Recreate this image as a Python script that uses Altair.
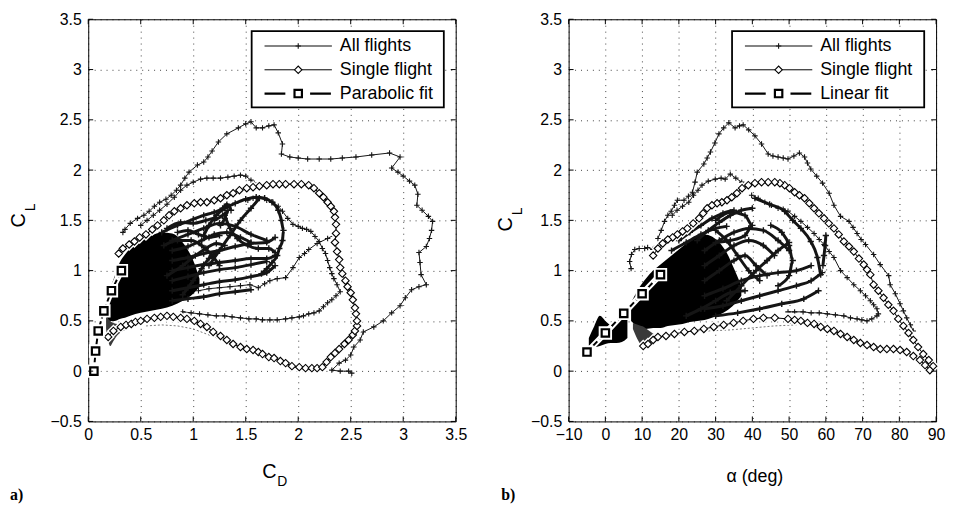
import altair as alt
import pandas as pd

FONT = "Liberation Sans"
W, H = 371, 406

CD_TICKS = [0, 0.5, 1, 1.5, 2, 2.5, 3, 3.5]
CL_TICKS = [-0.5, 0, 0.5, 1, 1.5, 2, 2.5, 3, 3.5]
ALPHA_TICKS = [-10, 0, 10, 20, 30, 40, 50, 60, 70, 80, 90]

LEGEND_A = ["All flights", "Single flight", "Parabolic fit"]
LEGEND_B = ["All flights", "Single flight", "Linear fit"]

# ---------------- panel a: C_L vs C_D ----------------
A_OUTER = [(0.33,1.38),(0.35,1.41),(0.40,1.47),(0.47,1.52),(0.53,1.55),(0.58,1.59),(0.63,1.64),(0.68,1.68),
           (0.74,1.71),(0.79,1.75),(0.84,1.80),(0.88,1.85),(0.92,1.92),(0.96,1.98),(1.04,2.05),(1.10,2.08),
           (1.14,2.13),(1.18,2.19),(1.24,2.28),(1.32,2.36),(1.43,2.42),(1.50,2.46),(1.55,2.48),(1.60,2.42),
           (1.66,2.42),(1.72,2.44),(1.77,2.45),(1.81,2.37),(1.85,2.26),(1.84,2.16),(1.92,2.13),(2.00,2.12),
           (2.09,2.11),(2.20,2.11),(2.31,2.11),(2.42,2.12),(2.55,2.13),(2.70,2.15),(2.87,2.17),(2.97,2.13),
           (2.89,2.02),(2.95,1.98),(3.00,1.94),(3.06,1.89),(3.11,1.85),(3.14,1.76),(3.13,1.65),(3.18,1.60),
           (3.24,1.54),(3.28,1.49),(3.27,1.40),(3.25,1.32),(3.22,1.24),(3.15,1.18),(3.16,1.08),(3.17,0.96),
           (3.22,0.86),(3.15,0.84),(3.08,0.81),(3.02,0.73),(2.97,0.65),(2.89,0.58),(2.81,0.50),(2.72,0.44),
           (2.62,0.39),(2.59,0.31),(2.53,0.24),(2.50,0.16),(2.45,0.11),(2.39,0.08),(2.32,0.01),(2.40,0.00),
           (2.48,0.00),(2.51,-0.02)]
A_SECOND = [(0.50,1.45),(0.56,1.50),(0.62,1.55),(0.68,1.60),(0.75,1.66),(0.82,1.73),(0.88,1.80),(0.94,1.85),
            (1.00,1.88),(1.07,1.91),(1.13,1.92),(1.19,1.92),(1.26,1.92),(1.33,1.93),(1.39,1.94),(1.45,1.95),
            (1.50,1.94),(1.55,1.90),(1.58,1.87)]
A_THIRD = [(1.52,1.70),(1.57,1.72),(1.63,1.72),(1.70,1.70),(1.76,1.68),(1.81,1.64),(1.85,1.59),(1.90,1.52),
           (1.95,1.46),(2.00,1.44),(2.04,1.42),(2.08,1.41),(2.12,1.39),(2.16,1.34),(2.20,1.29),(2.23,1.22),
           (2.26,1.17),(2.28,1.10),(2.30,1.03),(2.32,0.97),(2.34,0.92),(2.37,0.86),(2.40,0.79),(2.36,0.75),
           (2.32,0.71),(2.28,0.68),(2.24,0.64),(2.20,0.60),(2.15,0.58),(2.10,0.57),(2.05,0.55),(2.01,0.54),
           (1.94,0.53),(1.88,0.52),(1.80,0.51),(1.73,0.51),(1.66,0.51),(1.60,0.52),(1.53,0.52),(1.45,0.53),
           (1.37,0.54),(1.30,0.55),(1.22,0.55),(1.14,0.56),(1.06,0.57),(0.98,0.58),(0.90,0.59)]
A_FOURTH = [(1.05,0.80),(1.15,0.82),(1.25,0.83),(1.35,0.84),(1.45,0.85),(1.54,0.86),(1.62,0.83),(1.68,0.87),
            (1.73,0.90),(1.80,0.92),(1.88,0.93),(1.95,1.03),(2.01,1.13),(2.06,1.17),(2.10,1.21),(2.18,1.27),
            (2.28,1.32),(2.37,1.37)]
A_STRANDS = {
    "ring": [(1.10,1.35),(1.15,1.45),(1.22,1.55),(1.30,1.62),(1.40,1.67),(1.50,1.71),(1.60,1.73),(1.68,1.72),
             (1.75,1.68),(1.81,1.60),(1.84,1.50),(1.86,1.40),(1.85,1.30),(1.82,1.22),(1.80,1.15),(1.75,1.08),
             (1.70,1.02),(1.65,0.97)],
    "s1": [(0.70,1.38),(0.85,1.45),(1.00,1.51),(1.10,1.55),(1.20,1.58),(1.28,1.62),(1.32,1.66),(1.36,1.60)],
    "s2": [(0.80,1.30),(0.95,1.36),(1.10,1.42),(1.25,1.47),(1.40,1.44),(1.55,1.36),(1.70,1.30)],
    "s3": [(0.80,1.20),(0.95,1.24),(1.08,1.30),(1.20,1.36),(1.32,1.38),(1.45,1.33),(1.55,1.28)],
    "s4": [(0.80,1.10),(0.95,1.13),(1.10,1.17),(1.25,1.20),(1.40,1.24),(1.55,1.27),(1.70,1.28),(1.78,1.33)],
    "s5": [(0.80,1.00),(0.95,1.03),(1.10,1.06),(1.25,1.08),(1.40,1.10),(1.55,1.12),(1.70,1.12),(1.78,1.15)],
    "s6": [(0.80,0.90),(0.95,0.94),(1.10,0.98),(1.25,1.01),(1.40,1.03),(1.55,1.06),(1.70,1.09)],
    "s7": [(0.80,0.80),(0.95,0.83),(1.10,0.86),(1.25,0.89),(1.40,0.91),(1.55,0.94),(1.70,0.98),(1.78,1.05)],
    "s8": [(0.80,0.70),(0.95,0.72),(1.10,0.74),(1.25,0.77),(1.40,0.79),(1.55,0.81)],
    "s9": [(1.15,1.05),(1.25,1.20),(1.35,1.35),(1.45,1.50),(1.55,1.62),(1.63,1.72)],
    "s10": [(1.30,1.55),(1.35,1.42),(1.42,1.32),(1.52,1.25),(1.62,1.22),(1.72,1.22),(1.78,1.18)],
    "s11": [(0.75,0.95),(0.90,1.05),(1.02,1.15),(1.12,1.22),(1.22,1.27),(1.30,1.25)],
    "s12": [(0.72,1.25),(0.85,1.30),(0.98,1.30),(1.08,1.25),(1.18,1.15),(1.25,1.05)],
    "s13": [(0.90,0.76),(1.00,0.90),(1.08,1.02),(1.15,1.12),(1.22,1.18)],
    "s14": [(1.20,1.50),(1.28,1.55),(1.33,1.60),(1.30,1.52),(1.26,1.45)],
    "s15": [(0.75,1.42),(0.88,1.48),(1.00,1.47),(1.12,1.50),(1.22,1.53)],
    "s16": [(0.85,1.38),(0.95,1.40),(1.05,1.36),(1.15,1.33),(1.25,1.35)],
}
A_FAINT = [(0.55,0.45),(0.70,0.46),(0.85,0.45),(1.00,0.42),(1.15,0.36),(1.30,0.30)]
A_CORE_X = [0.17, 0.20, 0.25, 0.30, 0.35, 0.40, 0.50, 0.60, 0.70, 0.80, 0.90, 1.00, 1.06]
A_CORE_LO = [0.55, 0.50, 0.50, 0.52, 0.53, 0.55, 0.58, 0.60, 0.62, 0.65, 0.70, 0.77, 0.84]
A_CORE_HI = [0.62, 0.78, 0.94, 1.08, 1.16, 1.22, 1.30, 1.35, 1.38, 1.37, 1.28, 1.10, 0.92]
A_BLOB_X = [0.17, 0.19, 0.21, 0.24, 0.28, 0.33, 0.38]
A_BLOB_LO = [0.42, 0.30, 0.25, 0.30, 0.36, 0.40, 0.42]
A_BLOB_HI = [0.54, 0.52, 0.50, 0.48, 0.47, 0.46, 0.45]
A_SINGLE = [(0.19,0.34),(0.24,0.40),(0.31,0.44),(0.36,0.46),(0.41,0.47),(0.45,0.49),(0.50,0.50),(0.56,0.52),
            (0.63,0.53),(0.69,0.54),(0.75,0.55),(0.81,0.54),(0.88,0.53),(0.94,0.52),(1.01,0.50),(1.07,0.47),
            (1.13,0.44),(1.19,0.39),(1.26,0.35),(1.32,0.31),(1.38,0.27),(1.45,0.24),(1.51,0.22),(1.57,0.21),
            (1.62,0.19),(1.66,0.17),(1.72,0.14),(1.77,0.13),(1.83,0.10),(1.88,0.08),(1.94,0.05),(2.01,0.04),
            (2.07,0.03),(2.13,0.03),(2.18,0.03),(2.23,0.04),(2.27,0.09),(2.31,0.14),(2.35,0.18),(2.39,0.22),
            (2.44,0.27),(2.48,0.31),(2.52,0.36),(2.54,0.40),(2.56,0.45),(2.56,0.50),(2.55,0.57),(2.54,0.63),
            (2.52,0.71),(2.50,0.78),(2.47,0.84),(2.45,0.90),(2.42,0.97),(2.40,1.03),(2.39,1.11),(2.37,1.19),
            (2.35,1.28),(2.36,1.37),(2.36,1.46),(2.35,1.53),(2.34,1.59),(2.31,1.64),(2.28,1.68),(2.24,1.73),
            (2.20,1.77),(2.15,1.82),(2.10,1.85),(2.03,1.86),(1.96,1.86),(1.88,1.86),(1.82,1.86),(1.76,1.86),
            (1.70,1.85),(1.63,1.84),(1.57,1.83),(1.51,1.82),(1.44,1.80),(1.38,1.77),(1.32,1.75),(1.26,1.72),
            (1.20,1.70),(1.13,1.68),(1.07,1.68),(1.01,1.67),(0.94,1.65),(0.88,1.62),(0.82,1.59),(0.77,1.55),
            (0.72,1.50),(0.66,1.45),(0.61,1.41),(0.55,1.36),(0.49,1.33),(0.44,1.29),(0.39,1.26),(0.33,1.22),
            (0.29,1.17)]
A_FIT_X = [0.054, 0.070, 0.095, 0.149, 0.221, 0.316]
A_FIT_Y = [0.0, 0.2, 0.4, 0.6, 0.8, 1.0]

# ---------------- panel b: C_L vs alpha ----------------
B_OUTER = [(14.3,1.32),(15.2,1.40),(16.1,1.49),(17.0,1.55),(17.9,1.59),(18.8,1.65),(19.6,1.70),(21.4,1.70),
           (22.6,1.74),(23.7,1.78),(24.4,1.88),(25.0,1.98),(26.8,2.06),(27.7,2.12),(28.6,2.18),(29.8,2.27),
           (30.9,2.36),(32.2,2.42),(33.6,2.47),(35.3,2.42),(36.5,2.44),(37.5,2.45),(39.0,2.40),(40.7,2.34),
           (42.5,2.26),(44.3,2.16),(45.6,2.14),(47.0,2.13),(48.4,2.12),(49.7,2.11),(51.3,2.14),(52.8,2.17),
           (54.2,2.13),(55.0,2.07),(55.9,2.01),(57.5,1.94),(59.1,1.87),(60.9,1.77),(62.2,1.65),(64.0,1.54),
           (66.3,1.49),(67.4,1.43),(68.5,1.37),(69.6,1.31),(70.8,1.26),(73.0,1.16),(74.8,1.06),(77.1,0.95),
           (77.5,0.86),(78.9,0.77),(80.2,0.67),(81.1,0.60),(82.0,0.53),(83.0,0.46),(83.8,0.40)]
B_SECOND = [(18.2,1.55),(19.5,1.60),(21.0,1.64),(22.7,1.68),(24.0,1.75),(25.2,1.80),(26.3,1.85),(28.0,1.89),
            (29.9,1.91),(31.5,1.92),(32.6,1.91),(34.0,1.96),(35.5,1.92),(37.1,1.88),(38.5,1.84)]
B_THIRD = [(39.8,1.75),(41.6,1.72),(43.4,1.68),(45.2,1.65),(47.0,1.62),(48.4,1.61),(49.7,1.59),(51.5,1.54),
           (53.2,1.49),(55.0,1.43),(56.8,1.37),(58.2,1.31),(59.5,1.26),(60.9,1.19),(62.2,1.13),(64.0,1.00),
           (65.8,0.93),(67.6,0.86),(69.4,0.80),(70.8,0.75),(72.1,0.70),(73.0,0.66),(73.9,0.62),(74.3,0.57),
           (73.9,0.55),(72.5,0.52),(71.2,0.50),(69.8,0.51),(68.5,0.52),(66.7,0.53),(64.9,0.55),(62.6,0.56),
           (60.4,0.57),(58.2,0.58),(56.0,0.58),(53.8,0.59),(51.5,0.59),(49.7,0.59)]
B_LOOP = [(13.3,1.22),(12.9,1.21),(11.5,1.23),(10.7,1.22),(9.2,1.22),(8.0,1.21),(7.1,1.16),(6.6,1.09),(7.0,1.02)]
B_STRANDS = {
    "r1": [(25,1.30),(28,1.40),(31,1.48),(34,1.55),(37,1.60),(40,1.62)],
    "r2": [(27,1.20),(31,1.30),(35,1.38),(39,1.42),(43,1.40),(47,1.30),(50,1.20)],
    "r3": [(27,1.05),(31,1.15),(35,1.25),(39,1.30),(43,1.25),(46,1.15)],
    "r4": [(27,0.90),(31,1.00),(35,1.10),(38,1.15),(41,1.05),(44,0.95)],
    "r5": [(27,0.75),(32,0.82),(37,0.90),(42,0.95),(47,0.98),(52,1.00),(56,1.05)],
    "r6": [(27,0.62),(32,0.65),(37,0.70),(42,0.75),(47,0.80),(52,0.85),(56,0.90),(59,0.98)],
    "r7": [(30,0.55),(36,0.58),(42,0.62),(48,0.67),(54,0.72),(58,0.80)],
    "r8": [(60,1.35),(59.8,1.25),(59.5,1.15),(59.2,1.05)],
    "r9": [(30,1.40),(33,1.30),(36,1.15),(39,1.00),(42,0.90)],
    "r10": [(40.7,1.72),(44.7,1.66),(48.8,1.59),(51.0,1.50),(53.2,1.42),(55.9,1.29),(57.7,1.13),(58.6,0.96)],
    "r11": [(30,1.50),(34,1.58),(38,1.55),(40,1.45),(38,1.35),(34,1.30),(30,1.28)],
    "r12": [(33,0.70),(37,0.85),(41,1.00),(44,1.10),(47,1.20),(50,1.28)],
    "r13": [(22,0.55),(26,0.62),(30,0.70),(34,0.78),(38,0.80)],
    "r14": [(45,1.45),(48,1.38),(50,1.25),(51,1.10),(50,0.95),(47,0.85)],
    "r15": [(20,1.30),(23,1.38),(26,1.45),(29,1.52),(32,1.57),(35,1.60)],
    "r16": [(18,1.20),(22,1.28),(26,1.36),(30,1.42),(33,1.44)],
}
B_FAINT = [(28,0.40),(34,0.41),(40,0.43),(46,0.45),(52,0.46)]
B_CORE_X = [7, 9, 11, 13, 15, 17, 19, 21, 23, 25, 27, 29, 31, 33, 35, 37]
B_CORE_LO = [0.50, 0.44, 0.42, 0.43, 0.43, 0.45, 0.46, 0.47, 0.49, 0.50, 0.51, 0.53, 0.56, 0.60, 0.66, 0.75]
B_CORE_HI = [0.68, 0.82, 0.92, 1.00, 1.06, 1.12, 1.18, 1.24, 1.30, 1.34, 1.36, 1.34, 1.28, 1.18, 1.02, 0.85]
B_BLOB_X = [-4.5, -3, -1.5, 0, 1.5, 3, 4.5, 6]
B_BLOB_LO = [0.25, 0.24, 0.25, 0.27, 0.28, 0.28, 0.29, 0.33]
B_BLOB_HI = [0.33, 0.45, 0.55, 0.50, 0.46, 0.50, 0.58, 0.62]
B_WEDGE_X = [7.5, 9, 10.5, 12, 13.5]
B_WEDGE_LO = [0.42, 0.30, 0.23, 0.25, 0.30]
B_WEDGE_HI = [0.48, 0.46, 0.44, 0.40, 0.36]
B_SINGLE = [(10.3,0.25),(11.6,0.27),(13.0,0.31),(14.3,0.34),(16.5,0.35),(18.8,0.37),(21.5,0.39),(24.2,0.40),
            (26.8,0.42),(29.5,0.44),(32.2,0.46),(34.9,0.48),(37.5,0.50),(40.3,0.52),(43.0,0.53),(46.1,0.53),
            (49.7,0.52),(51.5,0.51),(53.2,0.50),(55.0,0.48),(56.8,0.47),(58.6,0.44),(60.4,0.42),(62.2,0.40),
            (64.0,0.37),(65.8,0.34),(67.6,0.31),(69.4,0.28),(71.2,0.26),(73.0,0.24),(74.8,0.22),(76.6,0.22),
            (78.4,0.22),(80.2,0.21),(82.0,0.19),(83.8,0.15),(85.6,0.11),(87.0,0.06),(88.3,0.01),(89.2,0.05),
            (88.0,0.11),(86.5,0.17),(85.1,0.24),(83.8,0.31),(82.5,0.38),(81.1,0.45),(79.7,0.52),(78.4,0.60),
            (77.0,0.66),(75.7,0.73),(74.3,0.80),(73.0,0.86),(72.1,0.96),(71.2,1.01),(70.3,1.06),(69.0,1.12),
            (67.6,1.19),(66.3,1.24),(64.9,1.29),(63.5,1.36),(62.2,1.42),(60.8,1.47),(59.5,1.52),(58.1,1.57),
            (56.8,1.62),(55.5,1.67),(54.2,1.72),(52.8,1.75),(51.5,1.78),(50.1,1.82),(48.8,1.85),(47.5,1.87),
            (46.1,1.88),(44.3,1.88),(42.5,1.88),(40.7,1.87),(38.9,1.85),(37.2,1.82),(35.8,1.77),(34.4,1.73),
            (33.1,1.70),(31.7,1.68),(30.4,1.67),(29.0,1.65),(27.7,1.62),(26.6,1.57),(25.5,1.52),(23.9,1.47),
            (22.3,1.42),(21.0,1.39),(19.6,1.36),(18.3,1.33),(17.0,1.31),(15.6,1.27),(14.3,1.22),(13.0,1.15)]
B_FIT_X = [-5, 0, 5, 10, 15]
B_FIT_Y = [0.19, 0.38, 0.575, 0.77, 0.96]

PLUS = "M-1,0H1M0,-1V1"
INK = "#151515"


def curves_df(curves):
    rows = []
    for name, pts in curves.items():
        for i, (x, y) in enumerate(pts):
            rows.append({"x": x, "y": y, "curve": name, "i": i})
    return pd.DataFrame(rows)


def one():
    return pd.DataFrame({"k": [0]})


def panel(xdom, xticks, xfmt, outer, strands, faint, core, blobs, single, fit, legend, letter,
          xtitle, ytitle_c, ytitle_l, letter_x):
    ax_x = alt.Axis(values=xticks, format=xfmt, title=None, grid=True, ticks=False, domain=False,
                    labelPadding=5, labelFlush=False)
    ax_y = alt.Axis(values=CL_TICKS, format="~g", title=None, grid=True, ticks=False, domain=False,
                    labelPadding=7)
    xs = alt.Scale(domain=xdom, nice=False, zero=False)
    ys = alt.Scale(domain=[-0.5, 3.5], nice=False, zero=False)
    X = alt.X("x:Q", scale=xs, axis=ax_x)
    Y = alt.Y("y:Q", scale=ys, axis=ax_y)

    layers = []
    cx, clo, chi = core
    core_df = pd.DataFrame({"x": cx, "y": clo, "y2": chi})
    layers.append(alt.Chart(core_df).mark_area(color="black", opacity=1, interpolate="monotone")
                  .encode(x=X, y=Y, y2="y2:Q"))
    for (bx, blo, bhi, col) in blobs:
        bdf = pd.DataFrame({"x": bx, "y": blo, "y2": bhi})
        layers.append(alt.Chart(bdf).mark_area(color=col, opacity=1, interpolate="monotone")
                      .encode(x=X, y=Y, y2="y2:Q"))
    fdf = curves_df({"faint": faint})
    layers.append(alt.Chart(fdf).mark_line(color="#777", strokeWidth=1, strokeDash=[2, 2])
                  .encode(x=X, y=Y, detail="curve:N", order="i:Q"))
    sdf = curves_df(strands)
    layers.append(alt.Chart(sdf).mark_line(color=INK, strokeWidth=3, interpolate="monotone")
                  .encode(x=X, y=Y, detail="curve:N", order="i:Q"))
    layers.append(alt.Chart(sdf).mark_point(shape=PLUS, size=40, filled=False, color=INK,
                                            strokeWidth=1.4, opacity=1).encode(x=X, y=Y))
    odf = curves_df(outer)
    layers.append(alt.Chart(odf).mark_line(color=INK, strokeWidth=1)
                  .encode(x=X, y=Y, detail="curve:N", order="i:Q"))
    layers.append(alt.Chart(odf).mark_point(shape=PLUS, size=30, filled=False, color=INK,
                                            strokeWidth=1.1, opacity=1).encode(x=X, y=Y))
    sg = curves_df({"single": single})
    layers.append(alt.Chart(sg).mark_point(shape="diamond", size=56, fill="white", stroke="white",
                                           strokeWidth=4, opacity=1, fillOpacity=1).encode(x=X, y=Y))
    layers.append(alt.Chart(sg).mark_line(color="black", strokeWidth=1)
                  .encode(x=X, y=Y, order="i:Q"))
    layers.append(alt.Chart(sg).mark_point(shape="diamond", size=56, fill="white", stroke="black",
                                           strokeWidth=1.1, opacity=1, fillOpacity=1).encode(x=X, y=Y))
    fx, fy = fit
    fdf2 = pd.DataFrame({"x": fx, "y": fy, "i": list(range(len(fx)))})
    layers.append(alt.Chart(fdf2).mark_line(color="white", strokeWidth=6).encode(x=X, y=Y, order="i:Q"))
    layers.append(alt.Chart(fdf2).mark_line(color="black", strokeWidth=2, strokeDash=[6, 3])
                  .encode(x=X, y=Y, order="i:Q"))
    layers.append(alt.Chart(fdf2).mark_point(shape="square", size=56, fill="white", stroke="white",
                                             strokeWidth=6, opacity=1, fillOpacity=1).encode(x=X, y=Y))
    layers.append(alt.Chart(fdf2).mark_point(shape="square", size=56, fill="white", stroke="black",
                                             strokeWidth=2.2, opacity=1, fillOpacity=1).encode(x=X, y=Y))

    xt = pd.DataFrame({"x": xticks})
    yt = pd.DataFrame({"y": CL_TICKS})
    layers.append(alt.Chart(xt).mark_rule(color="black", strokeWidth=1)
                  .encode(x=X, y=alt.value(H), y2=alt.value(H - 5)))
    layers.append(alt.Chart(xt).mark_rule(color="black", strokeWidth=1)
                  .encode(x=X, y=alt.value(0), y2=alt.value(5)))
    layers.append(alt.Chart(yt).mark_rule(color="black", strokeWidth=1)
                  .encode(y=Y, x=alt.value(0), x2=alt.value(5)))
    layers.append(alt.Chart(yt).mark_rule(color="black", strokeWidth=1)
                  .encode(y=Y, x=alt.value(W - 5), x2=alt.value(W)))

    LX0, LX1, LY0, LY1 = 165, 359, 12, 89
    rows_y = [27, 51, 75]
    s0, s1, sm, tx = 178, 246, 212, 254
    layers.append(alt.Chart(one()).mark_rect(fill="white", stroke="black", strokeWidth=1.8)
                  .encode(x=alt.value(LX0), x2=alt.value(LX1), y=alt.value(LY0), y2=alt.value(LY1)))
    layers.append(alt.Chart(one()).mark_rule(color="#5a5a5a", strokeWidth=1.6)
                  .encode(x=alt.value(s0), x2=alt.value(s1), y=alt.value(rows_y[0])))
    layers.append(alt.Chart(one()).mark_point(shape=PLUS, size=30, filled=False, color=INK, strokeWidth=1.1,
                                              opacity=1).encode(x=alt.value(sm), y=alt.value(rows_y[0])))
    layers.append(alt.Chart(one()).mark_rule(color="black", strokeWidth=1)
                  .encode(x=alt.value(s0), x2=alt.value(s1), y=alt.value(rows_y[1])))
    layers.append(alt.Chart(one()).mark_point(shape="diamond", size=56, fill="white", stroke="black",
                                              strokeWidth=1.1, opacity=1, fillOpacity=1)
                  .encode(x=alt.value(sm), y=alt.value(rows_y[1])))
    layers.append(alt.Chart(one()).mark_rule(color="black", strokeWidth=2.2, strokeDash=[21, 25])
                  .encode(x=alt.value(s0), x2=alt.value(s1 + 1), y=alt.value(rows_y[2])))
    layers.append(alt.Chart(one()).mark_point(shape="square", size=56, fill="white", stroke="black",
                                              strokeWidth=2.2, opacity=1, fillOpacity=1)
                  .encode(x=alt.value(sm), y=alt.value(rows_y[2])))
    for lab, ry in zip(legend, rows_y):
        layers.append(alt.Chart(one()).mark_text(text=lab, font=FONT, fontSize=18, align="left",
                                                 baseline="middle", color="black")
                      .encode(x=alt.value(tx), y=alt.value(ry)))

    for (txt, x, y, fs, ang) in xtitle + [ytitle_c, ytitle_l]:
        kw = dict(text=txt, font=FONT, fontSize=fs, align="center", baseline="middle", color="black")
        if ang:
            kw["angle"] = ang
        layers.append(alt.Chart(one()).mark_text(**kw).encode(x=alt.value(x), y=alt.value(y)))
    layers.append(alt.Chart(one()).mark_text(text=letter, font="Liberation Serif", fontSize=16,
                                             fontWeight="bold", align="left", baseline="alphabetic",
                                             color="black")
                  .encode(x=alt.value(letter_x), y=alt.value(485)))

    return alt.layer(*layers).properties(width=W, height=H)


pa = panel(
    [0, 3.5], CD_TICKS, "~g",
    {"outer": A_OUTER, "second": A_SECOND, "third": A_THIRD, "fourth": A_FOURTH},
    A_STRANDS, A_FAINT,
    (A_CORE_X, A_CORE_LO, A_CORE_HI),
    [(A_BLOB_X, A_BLOB_LO, A_BLOB_HI, "#3a3a3a")],
    A_SINGLE, (A_FIT_X, A_FIT_Y), LEGEND_A, "a)",
    [("C", 183, 457, 20, 0), ("D", 196, 467, 14, 0)],
    ("C", -70, 203, 20, 270), ("L", -58, 190, 14, 270), -79,
)

pb = panel(
    [-10, 90], ALPHA_TICKS, "d",
    {"outer": B_OUTER, "second": B_SECOND, "third": B_THIRD, "loop": B_LOOP},
    B_STRANDS, B_FAINT,
    (B_CORE_X, B_CORE_LO, B_CORE_HI),
    [(B_BLOB_X, B_BLOB_LO, B_BLOB_HI, "black"), (B_WEDGE_X, B_WEDGE_LO, B_WEDGE_HI, "#3a3a3a")],
    B_SINGLE, (B_FIT_X, B_FIT_Y), LEGEND_B, "b)",
    [("\u03b1  (deg)", 188, 462, 18, 0)],
    ("C", -63, 207, 20, 270), ("L", -51, 194, 14, 270), -68,
)

chart = (
    alt.hconcat(pa, pb, spacing=114, bounds="flush")
    .properties(padding={"left": 0, "top": 0, "right": 0, "bottom": 0})
    .configure_view(stroke="black", strokeWidth=1)
    .configure_axis(labelFont=FONT, labelFontSize=16, labelColor="black",
                    gridColor="black", gridDash=[1, 5], gridOpacity=0.75, gridWidth=1)
)

chart.save("out.html", embed_options={"renderer": "svg", "actions": False})
